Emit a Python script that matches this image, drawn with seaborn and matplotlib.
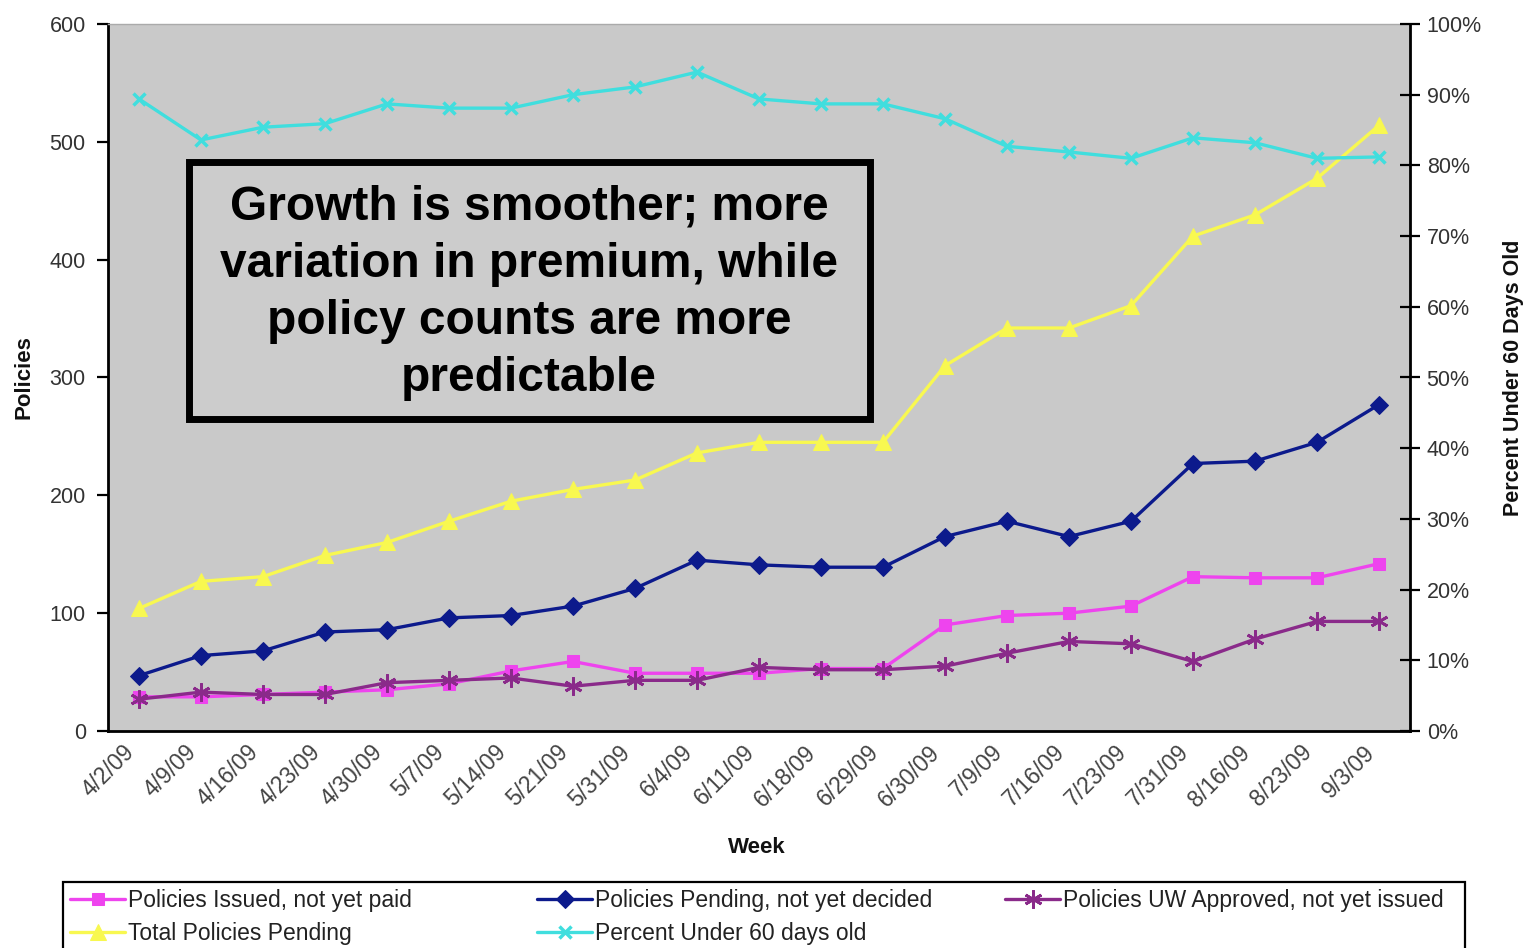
import numpy as np
import pandas as pd
import matplotlib
matplotlib.use("Agg")
import matplotlib.pyplot as plt
import seaborn as sns
from matplotlib.patches import Rectangle
from matplotlib.ticker import FixedLocator, PercentFormatter

weeks = ["4/2/09", "4/9/09", "4/16/09", "4/23/09", "4/30/09", "5/7/09", "5/14/09",
         "5/21/09", "5/31/09", "6/4/09", "6/11/09", "6/18/09", "6/29/09", "6/30/09",
         "7/9/09", "7/16/09", "7/23/09", "7/31/09", "8/16/09", "8/23/09", "9/3/09"]
issued_not_paid = [29, 29, 31, 33, 35, 40, 51, 59, 49, 49, 49, 53, 53, 90, 98, 100, 106, 131, 130, 130, 142]
pending_not_decided = [47, 64, 68, 84, 86, 96, 98, 106, 121, 145, 141, 139, 139, 165, 178, 165, 178, 227, 229, 245, 277]
uw_approved_not_issued = [27, 33, 31, 31, 41, 43, 45, 38, 43, 43, 54, 52, 52, 55, 66, 76, 74, 59, 78, 93, 93]
total_pending = [104, 127, 131, 149, 160, 178, 195, 205, 213, 236, 245, 245, 245, 310, 342, 342, 361, 420, 438, 469, 514]
pct_under_60 = [89.4, 83.6, 85.4, 85.9, 88.7, 88.1, 88.1, 90.0, 91.1, 93.2, 89.4, 88.7, 88.7, 86.6, 82.7, 81.9, 81.0, 83.9, 83.2, 81.0, 81.2]

annotation = "Growth is smoother; more\nvariation in premium, while\npolicy counts are more\npredictable"

sns.set_theme(style="white")
plt.rcParams['font.family'] = ['Liberation Sans', 'DejaVu Sans']

n = len(weeks)
df = pd.DataFrame({
    "pos": np.arange(n),
    "issued": issued_not_paid,
    "pending": pending_not_decided,
    "uw": uw_approved_not_issued,
    "total": total_pending,
    "pct": pct_under_60,
})

fig = plt.figure(figsize=(15.26, 9.48), dpi=100)
ax = fig.add_axes([108/1526, 1-731/948, 1302/1526, 707/948])
ax.set_facecolor("#c9c9c9")

lw = 2.4
sns.lineplot(data=df, x="pos", y="issued", ax=ax, color="#ee44ee", lw=lw,
             marker="s", markersize=9, markeredgecolor="#ee44ee",
             markerfacecolor="#ee44ee", label="Policies Issued, not yet paid", legend=False)
sns.lineplot(data=df, x="pos", y="pending", ax=ax, color="#0c1a8c", lw=lw,
             marker="D", markersize=9, markeredgecolor="#0c1a8c", markerfacecolor="#0c1a8c",
             label="Policies Pending, not yet decided", legend=False)
sns.lineplot(data=df, x="pos", y="uw", ax=ax, color="#8a2a8a", lw=lw,
             marker=(6, 2, 0), markersize=13, markeredgewidth=2, markeredgecolor="#8a2a8a",
             label="Policies UW Approved, not yet issued", legend=False)
sns.lineplot(data=df, x="pos", y="total", ax=ax, color="#f8f850", lw=lw,
             marker="^", markersize=12, markeredgecolor="#f8f850", markerfacecolor="#f8f850",
             label="Total Policies Pending", legend=False)

ax.set_xlim(-0.5, n - 0.5)
ax.set_ylim(0, 600)
ax.set_yticks(np.arange(0, 601, 100))
ax.set_xticks(df["pos"])
ax.set_xticklabels(weeks, rotation=45, ha="right")
ax.xaxis.set_minor_locator(FixedLocator(np.arange(n + 1) - 0.5))
ax.tick_params(axis="x", which="major", length=0, pad=7, labelsize=16.5, labelcolor="#444444")
ax.tick_params(axis="x", which="minor", direction="inout", length=14, width=1.6, color="black")
ax.tick_params(axis="y", which="major", direction="out", length=8, width=1.6, color="black",
               labelsize=15.5, labelcolor="#333333", pad=8, left=True)

for side in ["left", "bottom"]:
    ax.spines[side].set_color("black")
    ax.spines[side].set_linewidth(2)
ax.spines["top"].set_color("#aaaaaa")
ax.spines["top"].set_linewidth(1)
ax.spines["right"].set_visible(False)

ax.set_xlabel("Week", fontsize=16, fontweight="bold", color="#111111")
ax.xaxis.set_label_coords((757-108)/1302, (731-837)/707)
ax.set_ylabel("Policies", fontsize=16, fontweight="bold", color="#111111")
ax.yaxis.set_label_coords((35-108)/1302, 0.5)

ax2 = ax.twinx()
ax2.patch.set_visible(False)
sns.lineplot(data=df, x="pos", y="pct", ax=ax2, color="#40dede", lw=lw,
             marker="x", markersize=9, markeredgewidth=2.5, markeredgecolor="#40dede",
             label="Percent Under 60 days old", legend=False)
ax2.set_ylim(0, 100)
ax2.set_yticks(np.arange(0, 101, 10))
ax2.yaxis.set_major_formatter(PercentFormatter(decimals=0))
ax2.tick_params(axis="y", direction="inout", length=14, width=1.6, color="black",
                labelsize=15.5, labelcolor="#333333", pad=5, right=True)
for side in ["left", "bottom", "top"]:
    ax2.spines[side].set_visible(False)
ax2.spines["right"].set_color("black")
ax2.spines["right"].set_linewidth(2)
ax2.set_ylabel("Percent Under 60 Days Old", fontsize=15.5, fontweight="bold", color="#111111")
ax2.yaxis.set_label_coords((1503-108)/1302, 0.5)
ax2.set_xlabel("")

# annotation box
ax2.add_patch(Rectangle((0.062, 0.442), 0.523, 0.3635, transform=ax2.transAxes,
                        facecolor="#cccccc", edgecolor="black", linewidth=5, zorder=10))
ax2.text(0.3233, 0.620, annotation, transform=ax2.transAxes, ha="center", va="center",
         fontsize=34.5, fontweight="bold", color="black", linespacing=1.34, zorder=11)

# legend
lines = {l.get_label(): l for l in ax.get_lines() + ax2.get_lines()}
cols = [["Policies Issued, not yet paid", "Total Policies Pending"],
        ["Policies Pending, not yet decided", "Percent Under 60 days old"],
        ["Policies UW Approved, not yet issued"]]
xs = [70, 537, 1005]
for labels, x in zip(cols, xs):
    fig.legend([lines[k] for k in labels], labels, loc="upper left",
               bbox_to_anchor=(x/1526, 1-889/948), frameon=False, borderpad=0,
               borderaxespad=0, fontsize=16.5, handlelength=2.4, handletextpad=0.15,
               labelspacing=0.45, labelcolor="#222222")
fig.add_artist(Rectangle((63/1526, -0.05), (1465-63)/1526, 0.0696+0.05,
                         transform=fig.transFigure, fill=False, edgecolor="black", linewidth=1.6))

fig.savefig("out.png", dpi=100)
